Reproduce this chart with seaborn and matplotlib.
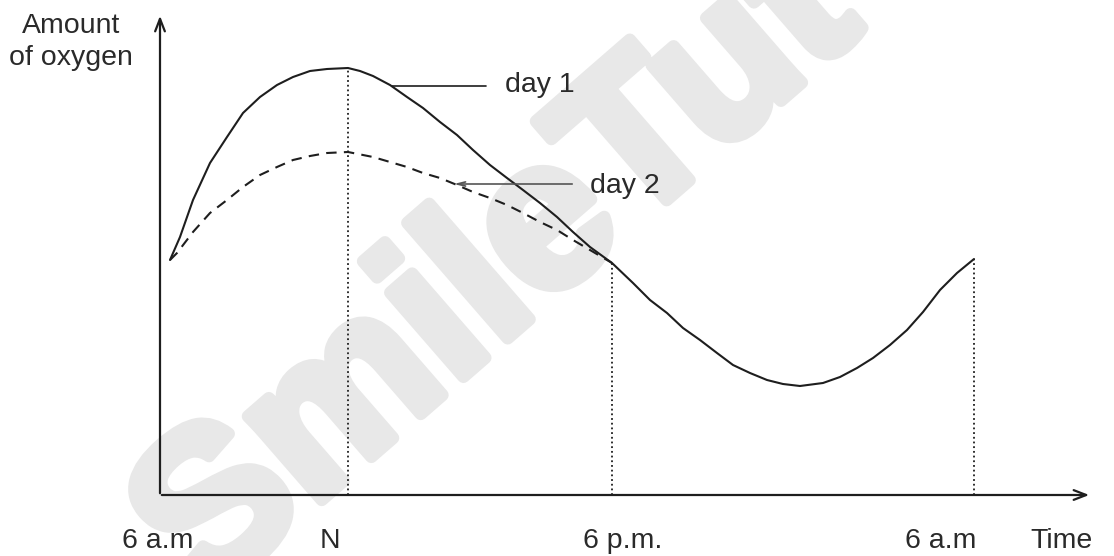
import seaborn as sns
import matplotlib.pyplot as plt
import matplotlib.patheffects as pe
import pandas as pd
import numpy as np

# values (time from the 6 a.m. axis, amount of oxygen upward)
day1_time = [10, 20, 33, 50, 67, 83, 100, 117, 133, 150, 167, 188, 200, 213, 230, 247,
             263, 280, 297, 313, 330, 347, 363, 380, 397, 413, 430, 452, 473, 490, 507,
             523, 540, 557, 573, 590, 607, 623, 640, 663, 680, 697, 713, 730, 747, 763,
             780, 797, 814]
day1_oxygen = [235, 258, 295, 332, 358, 382, 398, 410, 418, 424, 426, 427, 424, 419, 410, 398,
               387, 373, 360, 345, 330, 317, 305, 292, 278, 263, 248, 232, 212, 195, 182,
               167, 155, 142, 130, 122, 115, 111, 109, 112, 118, 127, 137, 150, 165, 183,
               205, 222, 236]
day2_time = [10, 17, 33, 50, 67, 83, 100, 117, 133, 150, 167, 188, 213, 230, 247, 263,
             280, 297, 313, 330, 347, 363, 380, 397, 413, 430, 452]
day2_oxygen = [235, 242, 263, 282, 295, 308, 320, 328, 335, 339, 342, 343, 338, 333, 328, 322,
               317, 310, 303, 297, 290, 282, 273, 265, 255, 245, 232]

tick_labels = ["6 a.m", "N", "6 p.m.", "6 a.m", "Time"]
drop_time = [188, 452, 814]
drop_oxygen = [427, 232, 236]

df = pd.concat([
    pd.DataFrame({"time": day1_time, "oxygen": day1_oxygen, "day": "day 1"}),
    pd.DataFrame({"time": day2_time, "oxygen": day2_oxygen, "day": "day 2"}),
])

sns.set_style("white")
plt.rcParams["font.family"] = ["Liberation Sans", "DejaVu Sans"]

fig = plt.figure(figsize=(11.14, 5.56), dpi=100)
ax = fig.add_axes([0, 0, 1, 1])
ax.set_xlim(-160, 954)
ax.set_ylim(-61, 495)
ax.axis("off")

# watermark
wm = "#e8e8e8"
ax.text(339, 222, "SmileTut", fontsize=152, fontweight="bold", color=wm,
        rotation=41, ha="center", va="center", zorder=0,
        path_effects=[pe.withStroke(linewidth=9, foreground=wm)])

ink = "#1e1e1e"
txt = "#2a2a2a"
sns.lineplot(data=df, x="time", y="oxygen", style="day",
             dashes={"day 1": "", "day 2": (5, 3.5)}, color=ink, linewidth=1.5,
             legend=False, sort=False, ax=ax, zorder=3)

# dotted drop lines
for t, o in zip(drop_time, drop_oxygen):
    ax.plot([t, t], [0, o], color=ink, linestyle=(0, (1, 1.6)), linewidth=1.3, zorder=2)

# axes with arrows
ax.annotate("", xy=(0, 482), xytext=(0, -1),
            arrowprops=dict(arrowstyle="->,head_length=0.9,head_width=0.35", color=ink, lw=1.6))
ax.annotate("", xy=(932, 0), xytext=(-1, 0),
            arrowprops=dict(arrowstyle="->,head_length=0.9,head_width=0.35", color=ink, lw=1.6))

fs = 20.5
ax.text(-138, 462, "Amount", fontsize=fs, color=txt, ha="left", va="baseline")
ax.text(-151, 430, "of oxygen", fontsize=fs, color=txt, ha="left", va="baseline")

# leader lines and labels
ax.plot([232, 326], [409, 409], color=ink, linewidth=1.2)
ax.text(345, 403, "day 1", fontsize=fs, color=txt, ha="left", va="baseline")
ax.annotate("", xy=(291, 311), xytext=(415, 311),
            arrowprops=dict(arrowstyle="->,head_length=0.6,head_width=0.15",
                            color="#555555", lw=1.2))
ax.text(430, 302, "day 2", fontsize=fs, color=txt, ha="left", va="baseline")

label_x = [-38, 160, 423, 745, 870]
for lx, lab in zip(label_x, tick_labels):
    ax.text(lx, -53, lab, fontsize=fs, color=txt, ha="left", va="baseline")

plt.savefig("out.png", dpi=100)
